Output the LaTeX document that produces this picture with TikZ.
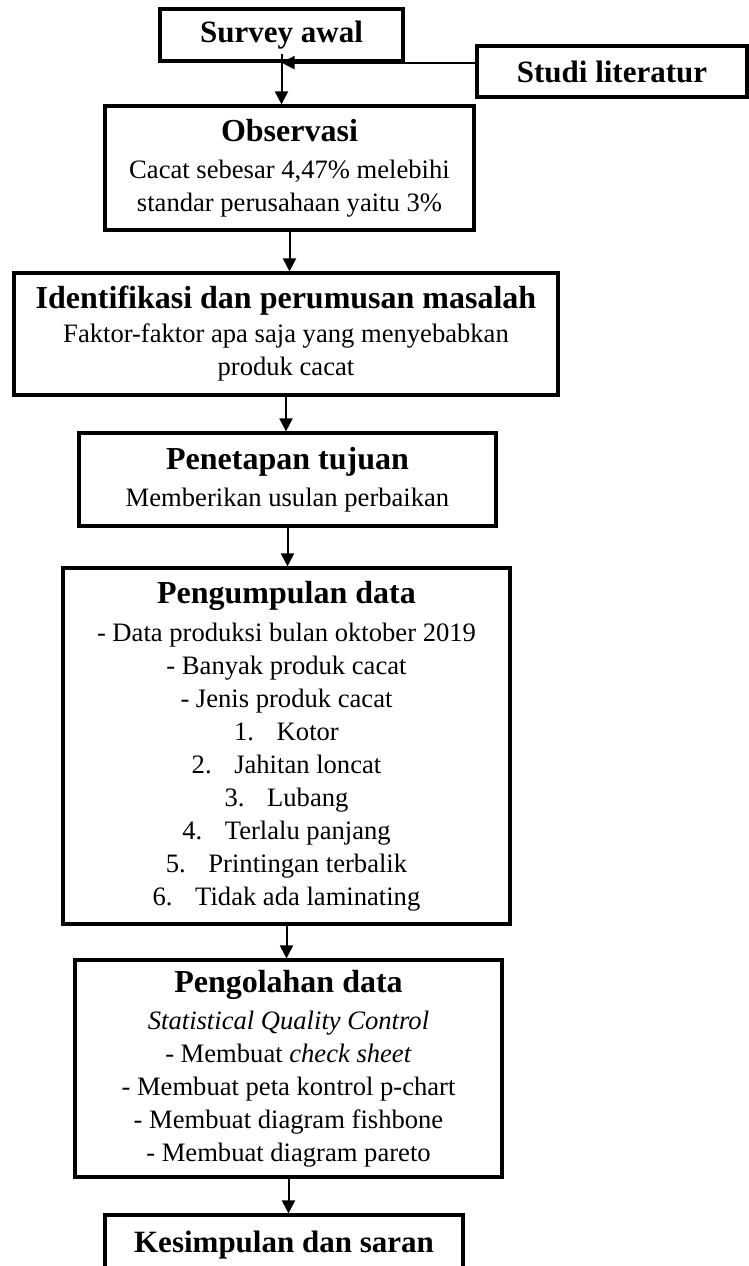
\documentclass[tikz,border=0pt]{standalone}
\usepackage{fontspec}
\setmainfont{Liberation Serif}
\usetikzlibrary{arrows.meta}

\newcommand{\boxhead}[1]{{\fontsize{16}{19}\selectfont\bfseries #1}}

\begin{document}
\begin{tikzpicture}[x=0.5pt,y=-0.5pt,
		flowbox/.style={draw, line width=1.6pt, align=center, inner sep=0pt, font=\fontsize{13.3}{16.5}\selectfont},
		headbox/.style={flowbox, font=\fontsize{15.5}{19}\selectfont\bfseries},
		flowarrow/.style={line width=1pt, -{Triangle[length=6.5pt,width=6.5pt]}}]
			\useasboundingbox (0,0) rectangle (749,1266);
			\clip (0,0) rectangle (749,1266);
			\node at (281.5,35) (survey) [headbox, minimum width=121.5pt, minimum height=26pt] {Survey awal};
			\node at (612,71.5) (studi) [headbox, minimum width=135pt, minimum height=25.5pt] {Studi literatur};
			\node at (289.5,168) (obs) [flowbox, minimum width=184.5pt, minimum height=62pt] {\boxhead{Observasi}\\[2pt] Cacat sebesar 4,47\% melebihi\\ standar perusahaan yaitu 3\%};
			\node at (286,334) (ident) [flowbox, minimum width=272pt, minimum height=61pt] {\boxhead{Identifikasi dan perumusan masalah}\\[0.5pt] Faktor-faktor apa saja yang menyebabkan\\ produk cacat};
			\node at (287.5,479.5) (tuju) [flowbox, minimum width=208.5pt, minimum height=46.5pt] {\boxhead{Penetapan tujuan}\\[2pt] Memberikan usulan perbaikan};
			\node at (286.5,746) (kumpul) [flowbox, minimum width=223.5pt, minimum height=178pt] {\boxhead{Pengumpulan data}\\[2.5pt] - Data produksi bulan oktober 2019\\ - Banyak produk cacat\\ - Jenis produk cacat\\ 1.\hspace{0.85em}Kotor\\ 2.\hspace{0.85em}Jahitan loncat\\ 3.\hspace{0.85em}Lubang\\ 4.\hspace{0.85em}Terlalu panjang\\ 5.\hspace{0.85em}Printingan terbalik\\ 6.\hspace{0.85em}Tidak ada laminating};
			\node at (288.5,1068.5) (olah) [flowbox, minimum width=213.5pt, minimum height=108.5pt] {\boxhead{Pengolahan data}\\[2pt] \textit{Statistical Quality Control}\\ - Membuat \textit{check sheet}\\ - Membuat peta kontrol p-chart\\ - Membuat diagram fishbone\\ - Membuat diagram pareto};
			\node at (284,1245) (simpul) [headbox, minimum width=179pt, minimum height=30pt] {Kesimpulan dan saran};
			% arrows
			\draw[flowarrow] ([yshift=4.5pt]survey.south) -- (survey.south |- obs.north);
			\draw[flowarrow] (studi.west |- survey.south) -- (survey.south);
			\draw[flowarrow] (obs.south) -- (obs.south |- ident.north);
			\draw[flowarrow] (ident.south) -- (ident.south |- tuju.north);
			\draw[flowarrow] (tuju.south) -- (tuju.south |- kumpul.north);
			\draw[flowarrow] (kumpul.south) -- (kumpul.south |- olah.north);
			\draw[flowarrow] (olah.south) -- (olah.south |- simpul.north);
\end{tikzpicture}
\end{document}
